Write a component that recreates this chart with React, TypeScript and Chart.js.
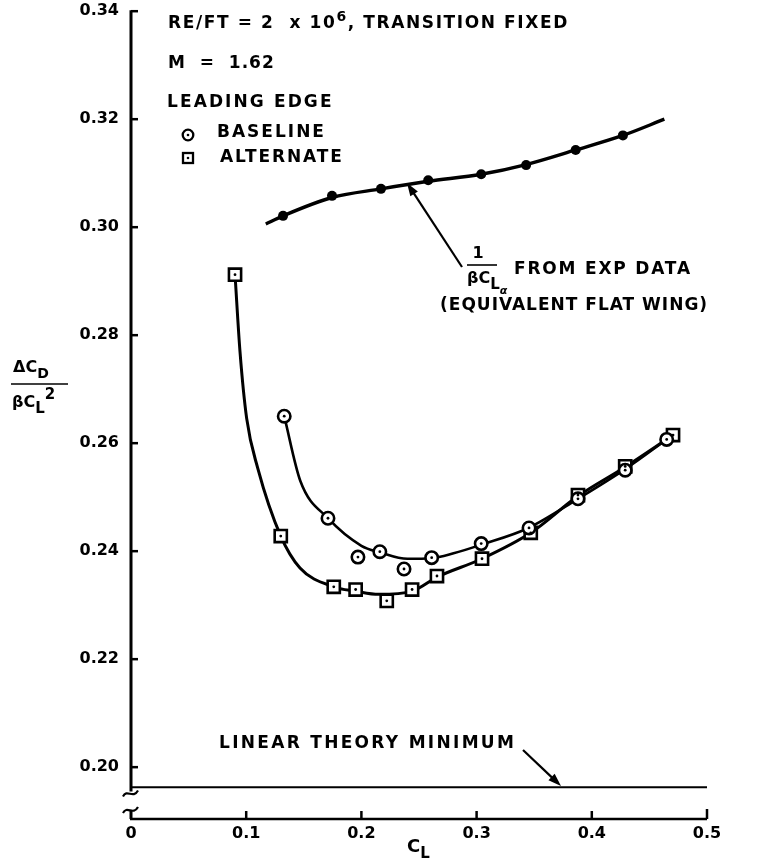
import React, { useEffect, useRef } from 'react';
import { Chart, registerables } from 'chart.js';
Chart.register(...registerables);

// ---- data ----
const expCL = [0.132, 0.1745, 0.217, 0.258, 0.304, 0.343, 0.386, 0.427];
const expVal = [0.3021, 0.3058, 0.3071, 0.3087, 0.3098, 0.3115, 0.3143, 0.317];
const expFairCL = [0.117, 0.132, 0.1745, 0.217, 0.258, 0.304, 0.343, 0.386, 0.427, 0.463];
const expFairVal = [0.3006, 0.3021, 0.3055, 0.3071, 0.3085, 0.3098, 0.3116, 0.3143, 0.317, 0.32];

const baselineCL = [0.133, 0.171, 0.197, 0.216, 0.237, 0.261, 0.304, 0.3455, 0.388, 0.429, 0.465];
const baselineVal = [0.265, 0.2461, 0.2389, 0.2399, 0.2367, 0.2388, 0.2414, 0.2443, 0.2497, 0.255, 0.2607];
const baselineFairCL = [0.133, 0.147, 0.171, 0.2, 0.216, 0.24, 0.261, 0.28, 0.304, 0.345, 0.388, 0.429, 0.465];
const baselineFairVal = [0.265, 0.253, 0.2461, 0.241, 0.2398, 0.2386, 0.2387, 0.2396, 0.2412, 0.2443, 0.2497, 0.2552, 0.2607];

const alternateCL = [0.0903, 0.13, 0.176, 0.195, 0.222, 0.244, 0.2656, 0.3047, 0.347, 0.388, 0.429, 0.4705];
const alternateVal = [0.2912, 0.2428, 0.2334, 0.2329, 0.2308, 0.2329, 0.2354, 0.2386, 0.2434, 0.2504, 0.2557, 0.2615];
const alternateFairCL = [0.0903, 0.0946, 0.1004, 0.11, 0.13, 0.1467, 0.176, 0.195, 0.215, 0.244, 0.2656, 0.3047, 0.347, 0.388, 0.429, 0.4705];
const alternateFairVal = [0.2912, 0.277, 0.2646, 0.2554, 0.2428, 0.2369, 0.2334, 0.2326, 0.232, 0.2326, 0.2352, 0.2386, 0.2434, 0.2502, 0.2556, 0.2615];

const linearTheoryCL = [0, 0.5];
const linearTheoryVal = [0.1963, 0.1963];

const yTicks = [0.2, 0.22, 0.24, 0.26, 0.28, 0.3, 0.32, 0.34];
const xTicks = [0, 0.1, 0.2, 0.3, 0.4, 0.5];

const FAM = "'DejaVu Sans', sans-serif";

const zip = (xs: number[], ys: number[]) => xs.map((x, i) => ({ x, y: ys[i] }));

type Part = { t: string; s: number; dy?: number; ls?: number; it?: boolean };

function rich(ctx: CanvasRenderingContext2D, parts: Part[], x: number, y: number) {
  let cx = x;
  for (const p of parts) {
    ctx.font = `${p.it ? 'italic ' : ''}bold ${p.s}px ${FAM}`;
    (ctx as any).letterSpacing = `${p.ls ?? 1}px`;
    ctx.fillText(p.t, cx, y + (p.dy || 0));
    cx += ctx.measureText(p.t).width;
  }
  (ctx as any).letterSpacing = '0px';
  return cx;
}

function arrow(ctx: CanvasRenderingContext2D, x1: number, y1: number, x2: number, y2: number) {
  const a = Math.atan2(y2 - y1, x2 - x1);
  const L = 13, W = 4.5;
  ctx.beginPath();
  ctx.moveTo(x1, y1);
  ctx.lineTo(x2 - Math.cos(a) * L * 0.8, y2 - Math.sin(a) * L * 0.8);
  ctx.lineWidth = 2.2;
  ctx.stroke();
  ctx.beginPath();
  ctx.moveTo(x2, y2);
  ctx.lineTo(x2 - Math.cos(a) * L - Math.sin(a) * W, y2 - Math.sin(a) * L + Math.cos(a) * W);
  ctx.lineTo(x2 - Math.cos(a) * L + Math.sin(a) * W, y2 - Math.sin(a) * L - Math.cos(a) * W);
  ctx.closePath();
  ctx.fill();
}

const decorPlugin = {
  id: 'decor',
  afterDraw(chart: any) {
    const ctx: CanvasRenderingContext2D = chart.ctx;
    const xs = chart.scales.x;
    const ys = chart.scales.y;
    const X = (v: number) => xs.getPixelForValue(v);
    const Y = (v: number) => ys.getPixelForValue(v);
    const x0 = X(0);
    const bottom = chart.chartArea.bottom;
    ctx.save();
    ctx.strokeStyle = '#000';
    ctx.fillStyle = '#000';
    ctx.lineCap = 'butt';

    // y axis (broken)
    const yEnd = Y(0.1955);
    ctx.lineWidth = 3;
    ctx.beginPath();
    ctx.moveTo(x0, Y(0.34) - 1);
    ctx.lineTo(x0, yEnd);
    ctx.stroke();
    ctx.lineWidth = 2.5;
    for (const t of yTicks) {
      ctx.beginPath();
      ctx.moveTo(x0, Y(t));
      ctx.lineTo(x0 + 7, Y(t));
      ctx.stroke();
    }
    // break marks
    const tilde = (cy: number) => {
      ctx.beginPath();
      ctx.moveTo(x0 - 8, cy + 3);
      ctx.bezierCurveTo(x0 - 4, cy - 5, x0 + 2, cy + 6, x0 + 7, cy - 3);
      ctx.stroke();
    };
    ctx.lineWidth = 2.2;
    tilde(yEnd + 2);
    const y2 = bottom - 9;
    tilde(y2);
    ctx.lineWidth = 3;
    ctx.beginPath();
    ctx.moveTo(x0, y2);
    ctx.lineTo(x0, bottom);
    ctx.stroke();

    // x axis
    ctx.lineWidth = 2.5;
    ctx.beginPath();
    ctx.moveTo(x0 - 1, bottom);
    ctx.lineTo(X(0.5), bottom);
    ctx.stroke();
    for (const t of xTicks) {
      if (t === 0) continue;
      ctx.beginPath();
      ctx.moveTo(X(t), bottom);
      ctx.lineTo(X(t), bottom - (t === 0.5 ? 10 : 8));
      ctx.stroke();
    }

    // texts
    ctx.textBaseline = 'middle';
    ctx.textAlign = 'left';
    rich(ctx, [
      { t: 'RE/FT = 2  x 10', s: 17, ls: 1.6 },
      { t: '6', s: 14, dy: -7, ls: 1.6 },
      { t: ', TRANSITION FIXED', s: 17, ls: 1.6 },
    ], 168, 24);
    rich(ctx, [{ t: 'M  =  1.62', s: 17 }], 168, 64);
    rich(ctx, [{ t: 'LEADING EDGE', s: 17, ls: 2.1 }], 167, 103);
    rich(ctx, [{ t: 'BASELINE', s: 17, ls: 2 }], 217, 133);
    rich(ctx, [{ t: 'ALTERNATE', s: 17, ls: 1.9 }], 220, 158);

    // legend markers
    ctx.lineWidth = 2.3;
    ctx.beginPath();
    ctx.arc(188, 135, 5.3, 0, Math.PI * 2);
    ctx.stroke();
    ctx.beginPath();
    ctx.arc(188, 135, 1.3, 0, Math.PI * 2);
    ctx.fill();
    ctx.strokeRect(183, 153, 10, 10);
    ctx.beginPath();
    ctx.arc(188, 158, 1.3, 0, Math.PI * 2);
    ctx.fill();

    // 1 / (beta C_L_alpha) FROM EXP DATA
    ctx.textAlign = 'center';
    rich(ctx, [{ t: '1', s: 16, ls: 0 }], 478, 254);
    ctx.textAlign = 'left';
    ctx.lineWidth = 1.6;
    ctx.beginPath();
    ctx.moveTo(467, 265);
    ctx.lineTo(497, 265);
    ctx.stroke();
    rich(ctx, [
      { t: 'βC', s: 16, ls: 0 },
      { t: 'L', s: 15, dy: 6, ls: 0 },
      { t: 'α', s: 11, dy: 12, ls: 0, it: true },
    ], 467, 279);
    rich(ctx, [{ t: 'FROM EXP DATA', s: 17, ls: 1.8 }], 514, 270);
    rich(ctx, [{ t: '(EQUIVALENT FLAT WING)', s: 17, ls: 1 }], 440, 306);
    ctx.fillStyle = '#000';
    arrow(ctx, 462, 267, 407, 183);

    // linear theory minimum
    rich(ctx, [{ t: 'LINEAR THEORY MINIMUM', s: 17, ls: 2.3 }], 219, 744);
    arrow(ctx, 523, 750, 561, 786);

    // y title
    rich(ctx, [
      { t: 'Δ', s: 16, ls: 0 },
      { t: 'C', s: 16, ls: 0 },
      { t: 'D', s: 14, dy: 6, ls: 0 },
    ], 13, 368);
    ctx.lineWidth = 1.6;
    ctx.beginPath();
    ctx.moveTo(11, 384);
    ctx.lineTo(68, 384);
    ctx.stroke();
    rich(ctx, [
      { t: 'βC', s: 16, ls: 0 },
      { t: 'L', s: 15, dy: 6, ls: 0 },
      { t: '2', s: 15, dy: -8, ls: 0 },
    ], 12, 403);

    // x title
    rich(ctx, [
      { t: 'C', s: 18, ls: 0 },
      { t: 'L', s: 15, dy: 7, ls: 0 },
    ], 407, 847);

    ctx.restore();
  },
};

export default function App() {
  const ref = useRef<HTMLCanvasElement | null>(null);
  useEffect(() => {
    document.body.style.margin = '0';
    const canvas = ref.current!;
    const chart = new Chart(canvas, {
      type: 'scatter',
      data: {
        datasets: [
          {
            label: 'baseline dots',
            data: zip(baselineCL, baselineVal),
            pointRadius: 1.4,
            pointBorderWidth: 0,
            pointBackgroundColor: '#000',
            showLine: false,
            order: 0,
          },
          {
            label: 'alternate dots',
            data: zip(alternateCL, alternateVal),
            pointRadius: 1.4,
            pointBorderWidth: 0,
            pointBackgroundColor: '#000',
            showLine: false,
            order: 0,
          },
          {
            label: 'Baseline',
            data: zip(baselineCL, baselineVal),
            pointStyle: 'circle',
            pointRadius: 6.2,
            pointBorderWidth: 2.6,
            pointBorderColor: '#000',
            pointBackgroundColor: '#fff',
            showLine: false,
            order: 1,
          },
          {
            label: 'Alternate',
            data: zip(alternateCL, alternateVal),
            pointStyle: 'rect',
            pointRadius: 8.6,
            pointBorderWidth: 2.6,
            pointBorderColor: '#000',
            pointBackgroundColor: '#fff',
            showLine: false,
            order: 2,
          },
          {
            label: 'Exp data',
            data: zip(expCL, expVal),
            pointRadius: 5,
            pointBorderWidth: 0,
            pointBackgroundColor: '#000',
            showLine: false,
            order: 1,
          },
          {
            label: 'exp fair',
            data: zip(expFairCL, expFairVal),
            showLine: true,
            borderColor: '#000',
            borderWidth: 3.4,
            pointRadius: 0,
            cubicInterpolationMode: 'monotone',
            order: 5,
          },
          {
            label: 'baseline fair',
            data: zip(baselineFairCL, baselineFairVal),
            showLine: true,
            borderColor: '#000',
            borderWidth: 2.6,
            pointRadius: 0,
            cubicInterpolationMode: 'monotone',
            order: 5,
          },
          {
            label: 'alternate fair',
            data: zip(alternateFairCL, alternateFairVal),
            showLine: true,
            borderColor: '#000',
            borderWidth: 3,
            pointRadius: 0,
            cubicInterpolationMode: 'monotone',
            order: 5,
          },
          {
            label: 'linear theory',
            data: zip(linearTheoryCL, linearTheoryVal),
            showLine: true,
            borderColor: '#000',
            borderWidth: 2,
            pointRadius: 0,
            order: 6,
          },
        ],
      },
      options: {
        responsive: false,
        animation: false,
        devicePixelRatio: 1,
        layout: { padding: { top: 9, right: 57, left: 0, bottom: 0 } },
        plugins: { legend: { display: false }, tooltip: { enabled: false } },
        scales: {
          x: {
            type: 'linear',
            min: 0,
            max: 0.5,
            grid: { display: false, drawTicks: false },
            border: { display: false },
            afterBuildTicks: (s: any) => {
              s.ticks = xTicks.map((v) => ({ value: v }));
            },
            afterFit: (s: any) => {
              s.height = 43;
              s.paddingLeft = 0;
              s.paddingRight = 0;
            },
            ticks: {
              color: '#000',
              padding: 5,
              maxRotation: 0,
              font: { family: FAM, weight: 'bold', size: 16 },
              callback: (v: any) => (v === 0 ? '0' : Number(v).toFixed(1)),
            },
          },
          y: {
            type: 'linear',
            min: 0.1904,
            max: 0.34,
            grid: { display: false, drawTicks: false },
            border: { display: false },
            afterBuildTicks: (s: any) => {
              s.ticks = yTicks.map((v) => ({ value: v }));
            },
            afterFit: (s: any) => {
              s.width = 131;
              s.paddingTop = 0;
              s.paddingBottom = 0;
            },
            ticks: {
              color: '#000',
              padding: 12,
              font: { family: FAM, weight: 'bold', size: 16 },
              callback: (v: any) => Number(v).toFixed(2),
            },
          },
        },
      } as any,
      plugins: [decorPlugin],
    });
    return () => chart.destroy();
  }, []);
  return <canvas ref={ref} width={764} height={862} style={{ display: 'block' }} />;
}
